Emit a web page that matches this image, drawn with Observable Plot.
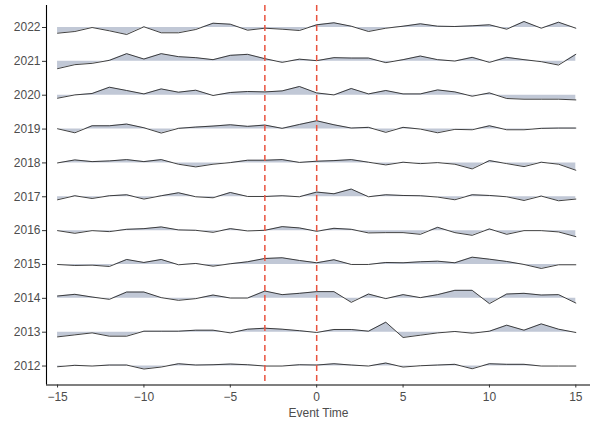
<!DOCTYPE html>
<html><head><meta charset="utf-8">
<script src="https://cdn.jsdelivr.net/npm/d3@7"></script>
<script src="https://cdn.jsdelivr.net/npm/@observablehq/plot@0.6"></script>
<style>body{margin:0;background:#fff}</style>
</head><body><div id="chart"></div>
<script>
const eventTime = [-15,-14,-13,-12,-11,-10,-9,-8,-7,-6,-5,-4,-3,-2,-1,0,1,2,3,4,5,6,7,8,9,10,11,12,13,14,15];
const years = [2012,2013,2014,2015,2016,2017,2018,2019,2020,2021,2022];
const xTicks = [-15,-10,-5,0,5,10,15];
const eventLines = [-3, 0];

const v2012 = [-0.7,0.7,0,1,1,-3,-1,2.3,1,1.3,2,1.3,0,0,1.3, 1,2.3,1,0,3,-1,0.3,1,1.7,-2.7,2.3,1.7,1.7,0,0,0];
const v2013 = [-4.7,-2.7,-0.7,-4,-4,1,1,1,2,2,-0.7,3,4,3,1.5, -0.3,2.7,2.7,1,10,-5.3,-3,-0.7,0.7,-1,1,7,2,8.3,3,-0.3];
const v2014 = [2.3,4,1.3,-1,6.3,6.3,0.7,-2,-0.3,3.3,0.3,0.3,7.3,3.7,5, 6.7,6.7,-4,4.3,-0.3,3.7,0.7,3.7,8,8,-5.3,4.3,5,3.3,3.7,-4.7];
const v2015 = [0,-1,-0.7,-2,5,2,5,-0.3,1,-1.7,0.7,2.7,6,6.7,4, 1.7,4.7,0,0,2,1.7,2.7,3.3,1.7,7.3,5.3,3,0,-4,-0.3,-0.3];
const v2016 = [0,-2.7,0,-1,1.3,2,3.7,0.7,0.3,-1.7,2,-0.3,0.3,4,2.7, -0.7,2.3,1.3,-2.3,-2,-2,-3.7,3.3,-2,-4.7,1.7,-3.7,0,0,-1.3,-6];
const v2017 = [-3,1,-1.7,1,2,-2.3,1,4,0,-1,4.3,0.3,0.3,1,0, 4.7,3,7.7,0,2,1.3,1,-0.3,-3,2,1.3,0,-3.7,0.7,-4,-2.3];
const v2018 = [0,3,1.3,2,3.3,1.3,3.3,-1.3,-4,-1.3,0.3,2.7,2.7,3.3,0.5, 1.7,2.3,3.3,0.7,-2,0.7,-0.7,0.3,-1.3,-6,2.3,-0.7,-3.7,0.7,-1.3,-7.3];
const v2019 = [0.3,-3.7,3.3,3.3,5,1.3,-4,0.7,2,3,4.3,2.7,4,0.7,4.6, 8.3,4.3,1,1.7,-3.3,1.7,0,-3.7,-0.3,-0.7,3.3,-0.7,-0.7,0.7,1,1];
const v2020 = [-3,0.3,1.7,8,4.7,1.3,6.3,3,5,-0.3,2.7,3.7,3.3,4.3,8.7, 2.3,0.3,6.7,1.3,4.7,1.3,1.3,5.3,3.3,-1,2.3,-3.3,-4,-4,-4,-4.7];
const v2021 = [-7.3,-3.3,-2,1,7.7,2.3,7.7,4.7,3.7,1.7,6,7,2.7,-1,2.2, 0.7,3.7,3.3,3.3,-1.3,1.7,5.3,1.7,0.3,4,-1,4,1.7,-0.3,-3.7,7];
const v2022 = [-5.7,-4,0,-3.3,-7,0.7,-5.3,-5.3,-2,4.3,3.3,-2.7,-0.7,-1.7,-3, 2.7,4.7,1.3,-4,-0.7,1.3,3.7,1.3,1,1.7,2.7,-1.7,6,-0.7,5.3,-0.7];

const series = [v2012,v2013,v2014,v2015,v2016,v2017,v2018,v2019,v2020,v2021,v2022];
const ridgeScale = 1 / 33.85;

const rows = [];
years.forEach((yr, i) => series[i].forEach((v, j) => rows.push({year: yr, t: eventTime[j], top: yr + v * ridgeScale})));

const xDomain = [-15.64, 15.85];
const yDomain = [2011.44, 2022.65];

const chart = Plot.plot({
  width: 592, height: 423,
  marginLeft: 46, marginRight: 2, marginTop: 5, marginBottom: 38.5,
  style: {fontFamily: "'Liberation Sans', Arial, sans-serif", fontSize: "12px", background: "#fff"},
  x: {domain: xDomain},
  y: {domain: yDomain},
  marks: [
    Plot.areaY(rows, {x: "t", y1: "year", y2: "top", z: "year", fill: "#c1c8d6"}),
    Plot.lineY(rows, {x: "t", y: "top", z: "year", stroke: "#2b2b2b", strokeWidth: 0.9}),
    Plot.ruleX(eventLines, {stroke: "#e8533f", strokeWidth: 1.5, strokeDasharray: "6,4"}),
    Plot.ruleX([xDomain[0]], {stroke: "#000", strokeWidth: 1.1}),
    Plot.ruleY([yDomain[0]], {stroke: "#000", strokeWidth: 1.1}),
    Plot.axisX({ticks: xTicks, tickSize: 3, tickPadding: 4, stroke: "#333", color: "#4d4d4d",
      label: "Event Time", labelAnchor: "center", labelArrow: "none", labelOffset: 32}),
    Plot.axisY({ticks: years, tickFormat: d => String(d), tickSize: 4, tickPadding: 2, stroke: "#333", color: "#4d4d4d", label: null})
  ]
});
document.getElementById("chart").appendChild(chart);
</script>
</body></html>
